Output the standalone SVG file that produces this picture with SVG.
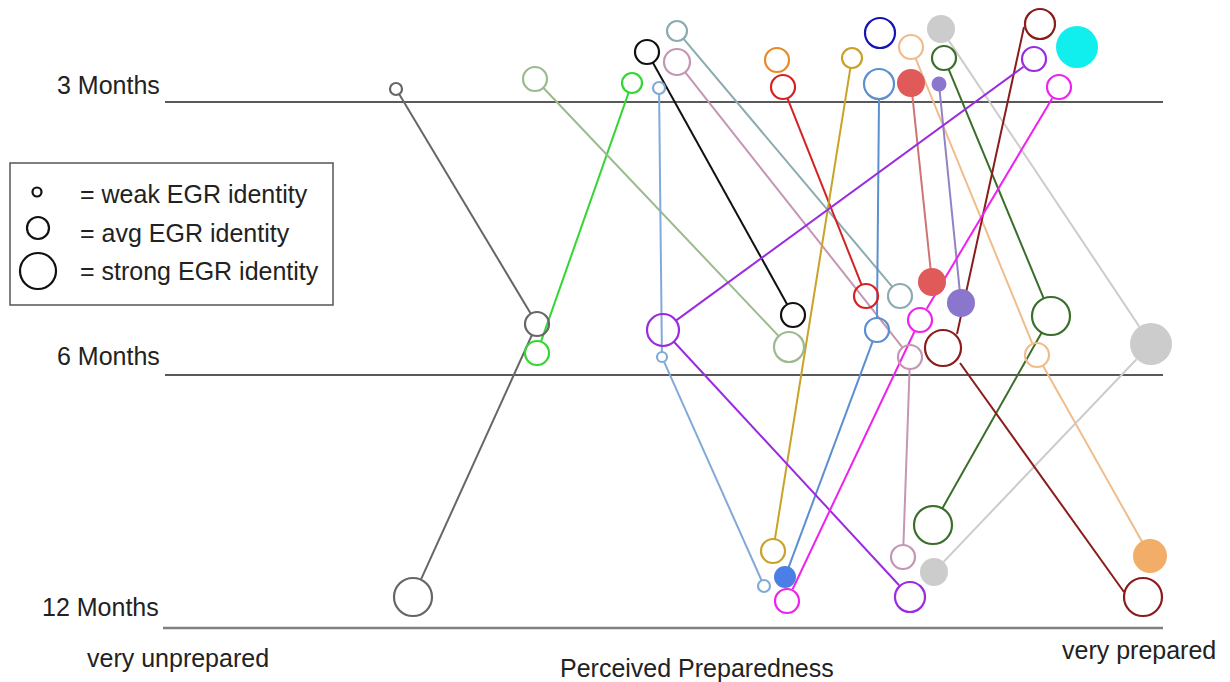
<svg xmlns="http://www.w3.org/2000/svg" width="1230" height="682" viewBox="0 0 1230 682">
<style>
text{font-family:"Liberation Sans",Arial,sans-serif;font-size:25px;fill:#222}
.ax{stroke:#222;stroke-width:1.5}
.axb{stroke:#808080;stroke-width:2.5}
line{stroke-width:2;fill:none}
circle{stroke-width:2.2;fill:none}
.gy{stroke:#666}
.gr{stroke:#33d633}
.sg{stroke:#9dba8e}
.lb{stroke:#82aad8}
.bk{stroke:#111}
.tl{stroke:#8aacb0}
.mv{stroke:#c496b4}
.or{stroke:#e8892a}
.rd{stroke:#d42222}
.gd{stroke:#c9a227}
.nv{stroke:#1515b5}
.mb{stroke:#5b8fd0}
.pc{stroke:#efbd8c}
.lg{stroke:#cccccc}
.dg{stroke:#3a6e2a}
.sl{stroke:#cf7474}
.pu{stroke:#9282c4}
.mr{stroke:#8b1c1c}
.vi{stroke:#9a2be0}
.mg{stroke:#ee22ee}
.f-mb{fill:#4a7fe6;stroke:none}
.f-pc{fill:#f2ad68;stroke:none}
.f-lg{fill:#cccccc;stroke:none}
.f-sl{fill:#e05a5a;stroke:none}
.f-pu{fill:#8a76cc;stroke:none}
.f-cy{fill:#11eeee;stroke:none}
.lgd{stroke:#111;stroke-width:2.2;fill:none}
</style>

<g id="axes">
<line class="ax" x1="165" y1="102" x2="1163" y2="102"/>
<line class="ax" x1="165" y1="375" x2="1163" y2="375"/>
<line class="axb" x1="163" y1="628" x2="1163" y2="628"/>
<text x="57" y="94">3 Months</text>
<text x="57" y="365">6 Months</text>
<text x="42" y="616">12 Months</text>
<text x="87" y="667">very unprepared</text>
<text x="560" y="677">Perceived Preparedness</text>
<text x="1062" y="659">very prepared</text>
</g>

<g id="legend">
<rect x="10" y="163" width="323" height="142" fill="none" stroke="#555" stroke-width="1.5"/>
<circle class="lgd" cx="37" cy="192" r="4.5"/>
<circle class="lgd" cx="38" cy="228" r="11"/>
<circle class="lgd" cx="38" cy="271" r="18"/>
<text x="80" y="203">= weak EGR identity</text>
<text x="80" y="242">= avg EGR identity</text>
<text x="80" y="280">= strong EGR identity</text>
</g>

<g id="connectors">
<line class="gy" x1="399.1" y1="94.1" x2="530.8" y2="313.7"/>
<line class="gy" x1="532" y1="334.9" x2="420.9" y2="579.7"/>
<line class="gr" x1="628.7" y1="92.4" x2="541" y2="341.7"/>
<line class="sg" x1="543.3" y1="87.7" x2="778.7" y2="336.1"/>
<line class="lb" x1="659.1" y1="94" x2="661.9" y2="352"/>
<line class="lb" x1="664" y1="361.6" x2="761.6" y2="580.5"/>
<line class="bk" x1="652.8" y1="62.5" x2="787.2" y2="304.5"/>
<line class="tl" x1="683.4" y1="38.7" x2="892.3" y2="286.8"/>
<line class="mv" x1="685.1" y1="72.2" x2="902.6" y2="347.6"/>
<line class="mv" x1="909.6" y1="369" x2="903.4" y2="545"/>
<line class="rd" x1="787.4" y1="98.1" x2="861.6" y2="284.9"/>
<line class="gd" x1="850.4" y1="67.9" x2="774.9" y2="539.2"/>
<line class="mb" x1="879" y1="99" x2="877" y2="318"/>
<line class="mb" x1="872.8" y1="341.2" x2="788.5" y2="567.6"/>
<line class="pc" x1="915.5" y1="58.1" x2="1032.5" y2="343.9"/>
<line class="pc" x1="1042.9" y1="365.5" x2="1142.2" y2="542"/>
<line class="lg" x1="948.8" y1="40.6" x2="1139.3" y2="326.5"/>
<line class="lg" x1="1136.5" y1="359.2" x2="943.6" y2="561.9"/>
<line class="dg" x1="948.6" y1="69.1" x2="1043.7" y2="298.4"/>
<line class="dg" x1="1041.7" y1="332.5" x2="942.3" y2="508.5"/>
<line class="sl" x1="912.4" y1="95.9" x2="930.6" y2="269.1"/>
<line class="pu" x1="939.7" y1="91" x2="959.7" y2="290.1"/>
<line class="mr" x1="1024" y1="27" x2="957" y2="334"/>
<line class="mr" x1="960" y1="363" x2="1124" y2="592"/>
<line class="vi" x1="1023.5" y1="66.7" x2="675.9" y2="320.6"/>
<line class="vi" x1="673.9" y1="341.7" x2="899.1" y2="585.3"/>
<line class="mg" x1="1052.3" y1="98.2" x2="926.7" y2="308.8"/>
<line class="mg" x1="914.4" y1="331.8" x2="792.6" y2="589.2"/>
</g>

<g id="n-gray-3"><circle class="gy" cx="396" cy="89" r="6"/></g>
<g id="n-gray-6"><circle class="gy" cx="537" cy="324" r="12"/></g>
<g id="n-gray-12"><circle class="gy" cx="413" cy="597" r="19"/></g>
<g id="n-green-3"><circle class="gr" cx="632" cy="83" r="10"/></g>
<g id="n-green-6"><circle class="gr" cx="537" cy="353" r="12"/></g>
<g id="n-sage-3"><circle class="sg" cx="535" cy="79" r="12"/></g>
<g id="n-sage-6"><circle class="sg" cx="789" cy="347" r="15"/></g>
<g id="n-lblue-3"><circle class="lb" cx="659" cy="88" r="6"/></g>
<g id="n-lblue-6"><circle class="lb" cx="662" cy="357" r="5"/></g>
<g id="n-lblue-12"><circle class="lb" cx="764" cy="586" r="6"/></g>
<g id="n-black-3"><circle class="bk" cx="647" cy="52" r="12"/></g>
<g id="n-black-6"><circle class="bk" cx="793" cy="315" r="12"/></g>
<g id="n-teal-3"><circle class="tl" cx="677" cy="31" r="10"/></g>
<g id="n-teal-6"><circle class="tl" cx="900" cy="296" r="12"/></g>
<g id="n-mauve-3"><circle class="mv" cx="677" cy="62" r="13"/></g>
<g id="n-mauve-6"><circle class="mv" cx="910" cy="357" r="12"/></g>
<g id="n-mauve-12"><circle class="mv" cx="903" cy="557" r="12"/></g>
<g id="n-orange-3"><circle class="or" cx="777" cy="60" r="12"/></g>
<g id="n-red-3"><circle class="rd" cx="783" cy="87" r="12"/></g>
<g id="n-red-6"><circle class="rd" cx="866" cy="296" r="12"/></g>
<g id="n-gold-3"><circle class="gd" cx="852" cy="58" r="10"/></g>
<g id="n-gold-12"><circle class="gd" cx="773" cy="551" r="12"/></g>
<g id="n-navy-3"><circle class="nv" cx="880" cy="33" r="15"/></g>
<g id="n-mblue-3"><circle class="mb" cx="879" cy="84" r="15"/></g>
<g id="n-mblue-6"><circle class="mb" cx="877" cy="330" r="12"/></g>
<g id="n-mblue-12"><circle class="f-mb" cx="785" cy="577" r="11"/></g>
<g id="n-peach-3"><circle class="pc" cx="911" cy="47" r="12"/></g>
<g id="n-peach-6"><circle class="pc" cx="1037" cy="355" r="12"/></g>
<g id="n-peach-12"><circle class="f-pc" cx="1150" cy="556" r="17"/></g>
<g id="n-lgray-3"><circle class="f-lg" cx="941" cy="29" r="14"/></g>
<g id="n-lgray-6"><circle class="f-lg" cx="1151" cy="344" r="21"/></g>
<g id="n-lgray-12"><circle class="f-lg" cx="934" cy="572" r="14"/></g>
<g id="n-dgreen-3"><circle class="dg" cx="944" cy="58" r="12"/></g>
<g id="n-dgreen-6"><circle class="dg" cx="1051" cy="316" r="19"/></g>
<g id="n-dgreen-12"><circle class="dg" cx="933" cy="525" r="19"/></g>
<g id="n-salmon-3"><circle class="f-sl" cx="911" cy="83" r="14"/></g>
<g id="n-salmon-6"><circle class="f-sl" cx="932" cy="282" r="14"/></g>
<g id="n-purple-3"><circle class="f-pu" cx="939" cy="84" r="7.5"/></g>
<g id="n-purple-6"><circle class="f-pu" cx="961" cy="303" r="14"/></g>
<g id="n-maroon-3"><circle class="mr" cx="1040" cy="24" r="15"/></g>
<g id="n-maroon-6"><circle class="mr" cx="943" cy="348" r="18"/></g>
<g id="n-maroon-12"><circle class="mr" cx="1143" cy="597" r="19"/></g>
<g id="n-cyan-3"><circle class="f-cy" cx="1077" cy="47" r="21"/></g>
<g id="n-violet-3"><circle class="vi" cx="1034" cy="59" r="12"/></g>
<g id="n-violet-6"><circle class="vi" cx="663" cy="330" r="16"/></g>
<g id="n-violet-12"><circle class="vi" cx="910" cy="597" r="15"/></g>
<g id="n-magenta-3"><circle class="mg" cx="1059" cy="87" r="12"/></g>
<g id="n-magenta-6"><circle class="mg" cx="920" cy="320" r="12"/></g>
<g id="n-magenta-12"><circle class="mg" cx="787" cy="601" r="12"/></g>
</svg>
